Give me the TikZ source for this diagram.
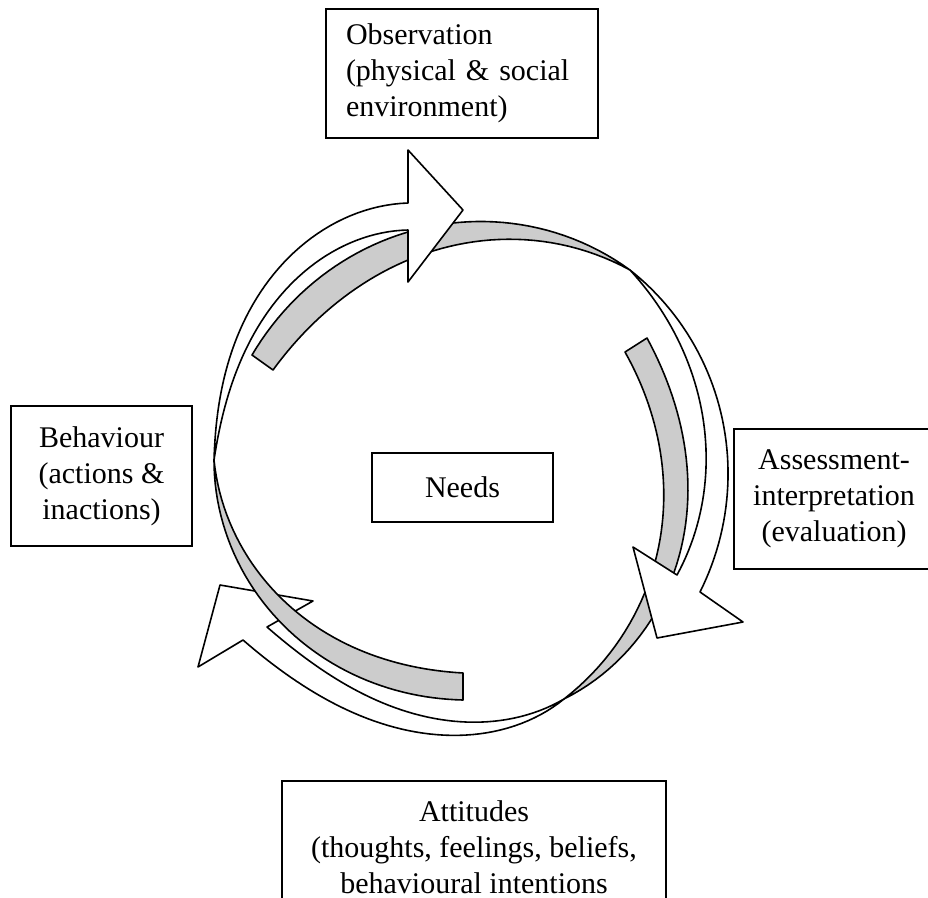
\documentclass[tikz,border=0pt]{standalone}
\usepackage{fontspec}
\setmainfont{Liberation Serif}
\tikzset{
    box/.style={draw, line width=1.2pt, fill=white, align=center, font=\fontsize{22.5pt}{27pt}\selectfont}, % text boxes
    front/.style={draw, line width=1.2pt, fill=white, line join=round}, % white face of the arrows
    back/.style={draw, line width=1.2pt, fill=gray!40, line join=round}, % grey face of the arrows
    declare function={
        lagr(\vt,\pa,\ra,\pb,\rb,\pc,\rc,\pd,\rd) =
            \ra*((\vt-\pb)/(\pa-\pb))*((\vt-\pc)/(\pa-\pc))*((\vt-\pd)/(\pa-\pd))
          + \rb*((\vt-\pa)/(\pb-\pa))*((\vt-\pc)/(\pb-\pc))*((\vt-\pd)/(\pb-\pd))
          + \rc*((\vt-\pa)/(\pc-\pa))*((\vt-\pb)/(\pc-\pb))*((\vt-\pd)/(\pc-\pd))
          + \rd*((\vt-\pa)/(\pd-\pa))*((\vt-\pb)/(\pd-\pb))*((\vt-\pc)/(\pd-\pc));
    }, % radius through four (angle, radius) pairs
    rim/.style n args={8}{insert path={-- plot[domain=#1:#7, samples=50, variable=\vt]
        ({467+lagr(\vt,#1,#2,#3,#4,#5,#6,#7,#8)*cos(\vt)}, {465-lagr(\vt,#1,#2,#3,#4,#5,#6,#7,#8)*sin(\vt)})}} % curved edge round the ring
}
\begin{document}
\begin{tikzpicture}[x=0.75pt, y=-0.75pt]
		\path[use as bounding box, clip] (0,0) rectangle (928,897);

		% Flecha abajo
		\draw[front] (564,699) [rim={-67.48}{253.31}{-90}{270}{-119.38}{273.13}{-142.0}{284.26}]
			-- (198,667) -- (220,585) -- (313,601) -- (267,627)
			[rim={-141.0}{257.4}{-117.79}{250.95}{-86.44}{257.5}{-67.48}{253.31}] -- cycle;
		\draw[back] (463,673) [rim={-91.10}{208.04}{-118.01}{212.94}{-149.46}{232.22}{-181.13}{253.05}]
			[rim={-181.13}{253.05}{-157.56}{248.85}{-125.68}{240.05}{-90.98}{235.03}] -- cycle;

		% Flecha arriba
		\draw[back] (252,355) [rim={152.90}{241.51}{119.36}{238.65}{82.96}{244.85}{50.10}{254.15}]
			[rim={50.10}{254.15}{70.27}{236.9}{106.06}{213.3}{153.91}{216.01}] -- cycle;
		\draw[front] (214,460) [rim={178.87}{253.05}{149.26}{264.11}{127.46}{274.61}{102.69}{268.56}]
			-- (408,150) -- (463,210) -- (408,282) -- (408,230)
			[rim={104.09}{242.29}{128.42}{252.69}{151.79}{249.65}{178.87}{253.05}] -- cycle;

		% Flecha derecha
		\draw[back] (647,338) [rim={35.20}{220.29}{7.39}{217.8}{-24.24}{231.4}{-67.48}{253.31}]
			[rim={-67.48}{253.31}{-36.87}{220.0}{4.44}{193.6}{35.57}{194.25}] -- cycle;
		\draw[front] (630,270) [rim={50.10}{254.15}{26.57}{257.15}{3.30}{260.43}{-28.59}{265.36}]
			-- (743,622) -- (657,638) -- (633,547) -- (677,575)
			[rim={-27.65}{237.07}{3.59}{239.5}{25.51}{243.77}{50.10}{254.15}] -- cycle;

		% Cajas
		\node[box, minimum width=204pt, minimum height=96.75pt, text width=174pt, inner xsep=15pt, align=left] (OB) at (462,73.5) {Observation\\(physical \& social\\environment)};
		\node[box, minimum width=135.75pt, minimum height=105pt] (BE) at (101.5,476) {Behaviour\\(actions \&\\inactions)};
		\node[box, minimum width=135.75pt, minimum height=51.75pt] (NE) at (462.5,487.5) {Needs};
		\node[box, minimum width=150pt, minimum height=105pt] (AS) at (834,499) {Assessment-\\interpretation\\(evaluation)};
		\node[box, minimum width=288pt, inner ysep=15pt, anchor=north] (AT) at (474,780) {Attitudes\\(thoughts, feelings, beliefs,\\behavioural intentions};
	\end{tikzpicture}
\end{document}
